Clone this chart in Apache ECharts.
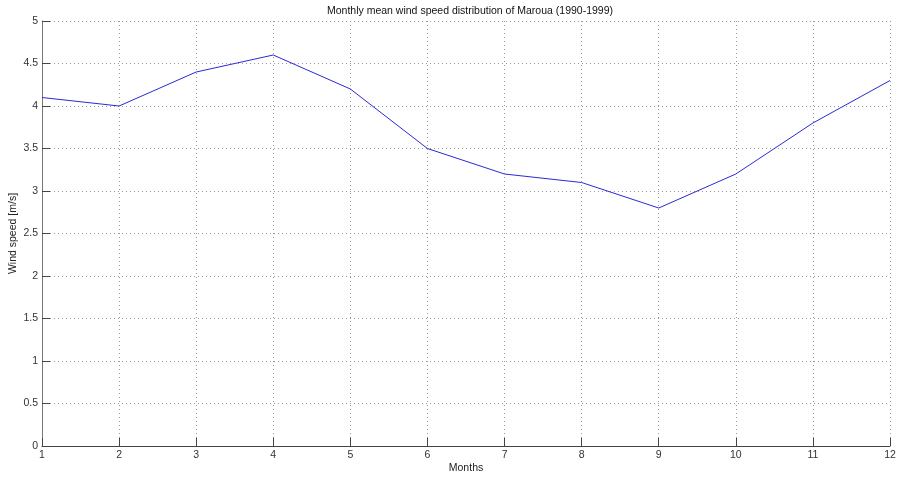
<!DOCTYPE html>
<html>
<head>
<meta charset="utf-8">
<script src="https://cdn.jsdelivr.net/npm/echarts@6/dist/echarts.min.js"></script>
<style>
html,body{margin:0;padding:0;background:#fff;}
#chart{width:898px;height:477px;}
</style>
</head>
<body>
<div id="chart"></div>
<script>
const months = [1,2,3,4,5,6,7,8,9,10,11,12];
const windSpeed = [4.1,4.0,4.4,4.6,4.2,3.5,3.2,3.1,2.8,3.2,3.8,4.3];
const titleText = 'Monthly mean wind speed distribution of Maroua (1990-1999)';
const xLabel = 'Months';
const yLabel = 'Wind speed [m/s]';

const chart = echarts.init(document.getElementById('chart'), null, {renderer:'canvas'});
const font = 'Liberation Sans, Arial, sans-serif';
chart.setOption({
  animation:false,
  backgroundColor:'#fff',
  title:{
    text:titleText, left:465, top:1, textAlign:'center',
    textStyle:{fontFamily:font,fontSize:10.5,fontWeight:'normal',color:'#111'}
  },
  grid:{left:42,right:8,top:21,bottom:31,containLabel:false,outerBoundsMode:'none'},
  xAxis:{
    type:'value', min:1, max:12, interval:1,
    name:xLabel, nameLocation:'middle', nameGap:17, nameMoveOverlap:false,
    nameTextStyle:{fontFamily:font,fontSize:10.5,color:'#222'},
    axisLine:{show:true,onZero:false,lineStyle:{color:'#444',width:1}},
    axisTick:{show:true,inside:true,length:8,lineStyle:{color:'#444'}},
    axisLabel:{fontFamily:font,fontSize:10.5,color:'#333',margin:4},
    splitLine:{show:true,lineStyle:{color:'#999',type:[1,3],width:1}}
  },
  yAxis:{
    type:'value', min:0, max:5, interval:0.5,
    name:yLabel, nameLocation:'middle', nameGap:23, nameMoveOverlap:false,
    nameTextStyle:{fontFamily:font,fontSize:10.5,color:'#222'},
    axisLine:{show:true,lineStyle:{color:'#777',width:1}},
    axisTick:{show:true,inside:true,length:8,lineStyle:{color:'#444'}},
    axisLabel:{fontFamily:font,fontSize:10.5,color:'#333',margin:4},
    splitLine:{show:true,lineStyle:{color:'#999',type:[1,3],width:1}}
  },
  series:[{
    type:'line',
    data:months.map((m,i)=>[m,windSpeed[i]]),
    symbol:'none',
    lineStyle:{color:'#2a2ad6',width:1},
    itemStyle:{color:'#2a2ad6'}
  }]
});
</script>
</body>
</html>
